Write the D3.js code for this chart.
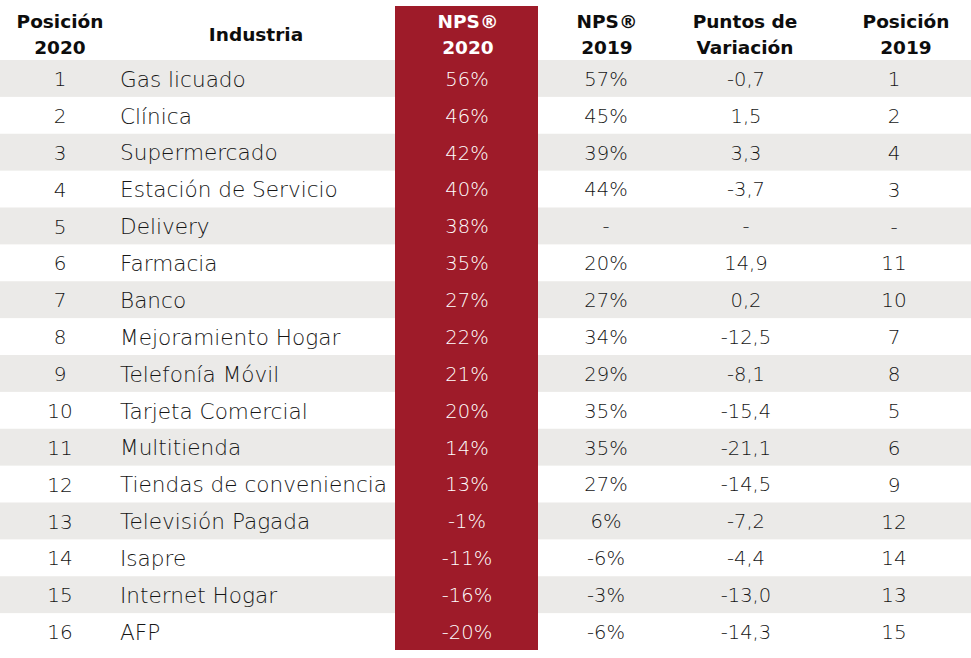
<!DOCTYPE html>
<html>
<head>
<meta charset="utf-8">
<script src="https://cdn.jsdelivr.net/npm/d3@7"></script>
<style>
  html, body { margin: 0; padding: 0; background: #fff; }
  svg { display: block; }
  text { font-family: "DejaVu Sans", sans-serif; }
</style>
</head>
<body>
<svg id="chart" width="971" height="658"></svg>
<script>
// data
var positions2020 = [1, 2, 3, 4, 5, 6, 7, 8, 9, 10, 11, 12, 13, 14, 15, 16];
var industries = ["Gas licuado", "Clínica", "Supermercado", "Estación de Servicio", "Delivery",
    "Farmacia", "Banco", "Mejoramiento Hogar", "Telefonía Móvil", "Tarjeta Comercial",
    "Multitienda", "Tiendas de conveniencia", "Televisión Pagada", "Isapre", "Internet Hogar", "AFP"];
var nps2020 = [56, 46, 42, 40, 38, 35, 27, 22, 21, 20, 14, 13, -1, -11, -16, -20];
var nps2019 = [57, 45, 39, 44, null, 20, 27, 34, 29, 35, 35, 27, 6, -6, -3, -6];
var variation = [-0.7, 1.5, 3.3, -3.7, null, 14.9, 0.2, -12.5, -8.1, -15.4, -21.1, -14.5, -7.2, -4.4, -13.0, -14.3];
var positions2019 = [1, 2, 4, 3, null, 11, 10, 7, 8, 5, 6, 9, 12, 14, 13, 15];
var headers = [["Posición", "2020"], ["Industria"], ["NPS®", "2020"], ["NPS®", "2019"], ["Puntos de", "Variación"], ["Posición", "2019"]];

var W = 971,
    rowTop = 60, rowBottom = 650,
    red = "#9e1b29", gray = "#ebeae8", ink = "#161616";

var es = d3.formatLocale({decimal: ",", thousands: ".", grouping: [3], currency: ["$", ""], minus: "-"});
var fmtVar = es.format(".1f");
var dash = function (f) { return function (v) { return v === null ? "-" : f(v); }; };

// layout of columns (x = value anchor, hx = header centre)
var cols = [
    {x: 60, hx: 60, anchor: "middle", size: 20, vals: positions2020, fmt: String},
    {x: 120, hx: 256, anchor: "start", size: 21.6, vals: industries, fmt: String},
    {x: 467, hx: 468, anchor: "middle", size: 19.5, vals: nps2020, fmt: function (v) { return v + "%"; }, red: true},
    {x: 606, hx: 607, anchor: "middle", size: 19.5, vals: nps2019, fmt: dash(function (v) { return v + "%"; })},
    {x: 746, hx: 745, anchor: "middle", size: 19.5, vals: variation, fmt: dash(fmtVar)},
    {x: 894, hx: 906, anchor: "middle", size: 20, vals: positions2019, fmt: dash(String)}
];

var svg = d3.select("#chart");
var y = d3.scaleBand().domain(d3.range(industries.length)).range([rowTop, rowBottom]);

// striped rows
svg.append("g").selectAll("rect")
    .data(d3.range(industries.length).filter(function (i) { return i % 2 === 0; }))
    .join("rect")
    .attr("x", 0).attr("width", W)
    .attr("y", function (i) { return y(i); })
    .attr("height", y.bandwidth())
    .attr("fill", gray);

// highlighted NPS 2020 column
svg.append("rect")
    .attr("x", 395).attr("y", 6)
    .attr("width", 143).attr("height", rowBottom - 6)
    .attr("fill", red);

// headers
var hg = svg.append("g").attr("font-weight", "bold").attr("font-size", 18.5).attr("text-anchor", "middle");
headers.forEach(function (lines, c) {
    var t = hg.append("text")
        .attr("x", cols[c].hx)
        .attr("fill", cols[c].red ? "#fff" : "#0d0d0d");
    lines.forEach(function (l, k) {
        t.append("tspan")
            .attr("x", cols[c].hx)
            .attr("y", lines.length === 1 ? 41 : 28 + k * 26)
            .text(l);
    });
});

// body cells
cols.forEach(function (col) {
    svg.append("g")
        .attr("font-size", col.size)
        .attr("font-weight", 300)
        .attr("text-anchor", col.anchor)
        .attr("fill", col.red ? "#fff" : ink)
        .selectAll("text")
        .data(col.vals)
        .join("text")
        .attr("x", col.x)
        .attr("y", function (d, i) { return y(i) + y.bandwidth() / 2; })
        .attr("dy", "0.38em")
        .text(function (d) { return col.fmt(d); });
});
</script>
</body>
</html>
